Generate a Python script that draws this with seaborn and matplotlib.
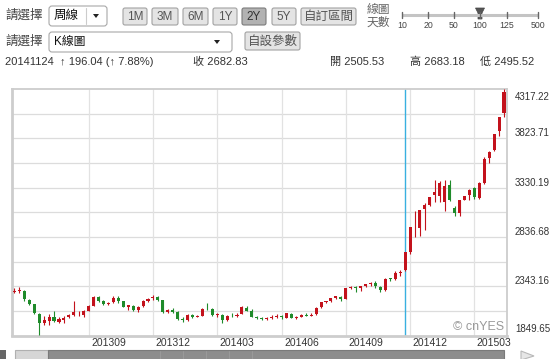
import numpy as np
import pandas as pd
import seaborn as sns
import matplotlib
matplotlib.use("Agg")
import matplotlib.pyplot as plt
import matplotlib.transforms as mtransforms
from matplotlib.patches import FancyBboxPatch, Rectangle, Polygon

# ---------------- data (weekly candles, week starting dates) ----------------
week_start = "2013-05-20"
opens = [2283, 2295, 2300, 2203, 2163, 2066, 1978, 1999, 2038, 1987,
         2005, 2031, 2052, 2052, 2055, 2097, 2142, 2237, 2191, 2161,
         2180, 2228, 2192, 2130, 2148, 2100, 2140, 2196, 2221, 2238,
         2205, 2086, 2100, 2080, 2012, 2000, 2050, 2035, 2047, 2115,
         2110, 2055, 2053, 2000, 2048, 2042, 2063, 2128, 2098, 2030,
         2026, 2010, 2025, 2033, 2040, 2028, 2068, 2023, 2037, 2058,
         2046, 2060, 2130, 2183, 2196, 2226, 2240, 2217, 2328, 2330,
         2330, 2350, 2366, 2375, 2340, 2302, 2420, 2418, 2480, 2505.53,
         2690, 2935, 2930, 3115, 3160, 3258, 3250, 3189, 3360, 3130,
         3080, 3210, 3260, 3330, 3230, 3380, 3630, 3710, 3899, 4072]
highs = [2321, 2334, 2310, 2215, 2168, 2070, 2049, 2064, 2093, 2030,
         2045, 2068, 2199, 2094, 2105, 2150, 2244, 2242, 2203, 2180,
         2242, 2242, 2197, 2155, 2150, 2140, 2205, 2230, 2260, 2250,
         2210, 2115, 2120, 2090, 2030, 2060, 2060, 2050, 2120, 2177,
         2120, 2075, 2060, 2050, 2072, 2070, 2146, 2140, 2115, 2045,
         2037, 2035, 2050, 2060, 2050, 2075, 2075, 2040, 2065, 2075,
         2070, 2130, 2190, 2200, 2230, 2250, 2245, 2330, 2345, 2345,
         2350, 2370, 2390, 2392, 2350, 2425, 2430, 2500, 2510, 2683.18,
         2938, 3091, 3108, 3177, 3239, 3406, 3400, 3406, 3406, 3150,
         3210, 3250, 3320, 3340, 3385, 3633, 3700, 3865, 4040, 4317.22]
lows = [2275, 2273, 2200, 2150, 2060, 1849.65, 1950, 1953, 1985, 1970,
        1975, 2026, 2048, 2040, 2035, 2090, 2141, 2180, 2150, 2150,
        2178, 2178, 2130, 2105, 2095, 2080, 2138, 2180, 2210, 2200,
        2075, 2070, 2075, 2005, 1985, 1990, 2020, 2030, 2040, 2100,
        2040, 2030, 1974, 1990, 2035, 2030, 2060, 2090, 2030, 2010,
        2000, 2000, 2015, 2025, 2015, 2025, 2020, 2010, 2035, 2040,
        2040, 2058, 2125, 2170, 2180, 2215, 2200, 2215, 2315, 2290,
        2300, 2340, 2350, 2330, 2285, 2300, 2400, 2410, 2445, 2495.52,
        2670, 2834, 2850, 2903, 3145, 3188, 3190, 3095, 3200, 3050,
        3050, 3205, 3210, 3220, 3220, 3370, 3580, 3700, 3850, 4035]
closes = [2300, 2301, 2211, 2162, 2073, 1979, 2007, 2039, 1992, 2010,
          2029, 2052, 2085, 2057, 2098, 2140, 2236, 2191, 2160, 2175,
          2228, 2194, 2133, 2150, 2106, 2136, 2196, 2220, 2237, 2205,
          2085, 2101, 2083, 2013, 2005, 2054, 2033, 2044, 2116, 2114,
          2056, 2058, 2004, 2048, 2042, 2059, 2131, 2098, 2037, 2026,
          2011, 2027, 2035, 2039, 2030, 2071, 2025, 2037, 2059, 2047,
          2059, 2127, 2185, 2194, 2227, 2241, 2217, 2326, 2332, 2329,
          2348, 2364, 2375, 2341, 2302, 2420, 2418, 2479, 2487, 2682.83,
          2938, 2938, 3109, 3158, 3235, 3285, 3376, 3351, 3210, 3076,
          3204, 3247, 3310, 3241, 3373, 3617, 3691, 3864, 4034, 4287]

month_labels = ["201309", "201312", "201403", "201406", "201409", "201412", "201503"]
selected_week = "2014-11-24"

header_items = ["20141124  \u2191 196.04 (\u2191 7.88%)", "收 2682.83", "開 2505.53",
                "高 2683.18", "低 2495.52"]
range_buttons = ["1M", "3M", "6M", "1Y", "2Y", "5Y", "自訂區間"]
slider_labels = ["10", "20", "50", "100", "125", "500"]

# ---------------- frame ----------------
dates = pd.date_range(week_start, periods=len(closes), freq="7D")
df = pd.DataFrame({"date": dates, "open": opens, "high": highs,
                   "low": lows, "close": closes})
df["idx"] = np.arange(len(df))

sns.set_theme(style="white")
plt.rcParams["font.family"] = ["Liberation Sans", "Noto Sans CJK TC", "DejaVu Sans"]

W, H = 553, 359
fig = plt.figure(figsize=(W / 100, H / 100), dpi=100)
fig.patch.set_facecolor("white")

# overlay for UI chrome (pixel coordinates, y downward)
ov = fig.add_axes([0, 0, 1, 1], zorder=0)
ov.set_xlim(0, W)
ov.set_ylim(H, 0)
ov.axis("off")

# chart axes
L, R, T, B = 12, 506.5, 89, 335.5
ax = fig.add_axes([L / W, (H - B) / H, (R - L) / W, (B - T) / H], zorder=2)

RED = "#c3121c"
GREEN = "#1f8b2a"
GRID = "#dcdcdc"

ymin, ymax = min(lows), max(highs)
ax.set_xlim(-0.5, len(df) - 0.5)
ax.set_ylim(ymin, ymax)

# grid lines
hlines = np.linspace(ymin, ymax, 11)
for v in hlines[1:-1]:
    ax.axhline(v, color=GRID, lw=0.9, zorder=1)
tick_idx = []
for lab in month_labels:
    y, m = int(lab[:4]), int(lab[4:])
    first = df.index[(df["date"].dt.year == y) & (df["date"].dt.month == m)][0]
    tick_idx.append(first)
for t in tick_idx:
    ax.axvline(t, color="#e2e2e2", lw=0.9, zorder=1)

# selected week marker
sel = df.index[df["date"] == pd.Timestamp(selected_week)][0]
ax.axvline(sel, color="#38b0e0", lw=1.0, zorder=2)

# candles
up = df["close"] >= df["open"]
cols = np.where(up, RED, GREEN)
ax.vlines(df["idx"], df["low"], df["high"], colors=cols, lw=0.8, zorder=3)
body_lo = np.minimum(df["open"], df["close"])
body_h = np.abs(df["close"] - df["open"])
min_h = 8.0
pad = np.clip(min_h - body_h, 0, None) / 2
ax.bar(df["idx"], np.maximum(body_h, min_h), bottom=body_lo - pad, width=0.62,
       color=cols, edgecolor=cols, linewidth=0, zorder=4)

ax.set_xticks([])
ax.set_yticks([])
for side in ["top", "right", "bottom", "left"]:
    ax.spines[side].set_visible(True)
    ax.spines[side].set_color("#cdcdcd")
    ax.spines[side].set_linewidth(1.3)
ax.spines["left"].set_linewidth(2)
ax.spines["bottom"].set_linewidth(2)

# y labels on the right
yt = np.linspace(ymin, ymax, 6)
ytrans = mtransforms.blended_transform_factory(ax.transAxes, ax.transData)
for k, v in enumerate(yt):
    if k == len(yt) - 1:
        dy = -8
    elif k == 0:
        dy = 7
    else:
        dy = 5
    tr = mtransforms.offset_copy(ytrans, fig=fig, x=8.5, y=dy, units="dots")
    ax.text(1.0, v, f"{v:.2f}", transform=tr, ha="left", va="center",
            fontsize=7, color="#333333", clip_on=False)

# x labels
xtrans = mtransforms.blended_transform_factory(ax.transData, ax.transAxes)
for t, lab in zip(tick_idx, month_labels):
    tr = mtransforms.offset_copy(xtrans, fig=fig, x=2.5, y=-7.5, units="dots")
    ax.text(t, 0.0, lab, transform=tr, ha="left", va="center",
            fontsize=7.5, color="#333333", clip_on=False)

# watermark
ax.text(0.995, 0.035, "© cnYES", transform=ax.transAxes, ha="right", va="center",
        fontsize=9, color="#9a9a9a", zorder=5)

# ---------------- UI chrome ----------------
TXT = "#333333"

def box(x0, y0, x1, y1, fc, ec, r=2, lw=0.8):
    p = FancyBboxPatch((x0, y0), x1 - x0, y1 - y0,
                       boxstyle=f"round,pad=0,rounding_size={r}",
                       fc=fc, ec=ec, lw=lw)
    ov.add_patch(p)

def tri_down(cx, cy, w=6, h=4):
    ov.add_patch(Polygon([(cx - w / 2, cy - h / 2), (cx + w / 2, cy - h / 2), (cx, cy + h / 2)],
                         closed=True, fc="#222222", ec="none"))

# row 1
ov.text(5, 16, "請選擇", fontsize=9, color="#444444", va="center", ha="left")
box(49, 6, 107, 26, "white", "#a8a8a8", r=3)
ov.text(54, 16, "周線", fontsize=9, color="#111111", va="center", ha="left")
ov.plot([86, 86], [8, 24], color="#cccccc", lw=0.8)
tri_down(96, 16)

btn_x = [(123, 147), (152, 178), (183, 208), (213, 237), (242, 266), (272, 296), (301, 356)]
for (x0, x1), lab in zip(btn_x, range_buttons):
    pressed = lab == "2Y"
    box(x0, 8, x1, 25, "#b2b2b2" if pressed else "#e4e4e4",
        "#7c7c7c" if pressed else "#a2a2a2", r=2)
    ov.text((x0 + x1) / 2, 16.8, lab, fontsize=8.5 if len(lab) < 3 else 9,
            color="#333333" if pressed else "#555555", ha="center", va="center")

ov.text(367, 10.5, "線圖", fontsize=8.5, color="#666666", va="center", ha="left")
ov.text(367, 23, "天數", fontsize=8.5, color="#666666", va="center", ha="left")
slider_x = [402, 428, 454, 480, 507, 538]
ov.plot([slider_x[0], slider_x[-1]], [15, 15], color="#c4c4c4", lw=2.2, solid_capstyle="butt")
for sx, lab in zip(slider_x, slider_labels):
    ov.plot([sx, sx], [12, 18], color="#666666", lw=1.0)
    ov.text(sx, 25, lab, fontsize=6.3, color="#444444", ha="center", va="center")
thumb = slider_x[slider_labels.index("100")]
ov.add_patch(Polygon([(thumb - 4.5, 8), (thumb + 4.5, 8), (thumb + 2, 13),
                      (thumb + 2, 19), (thumb - 2, 19), (thumb - 2, 13)],
                     closed=True, fc="#555555", ec="#444444", lw=0.5))

# row 2
ov.text(5, 42, "請選擇", fontsize=9, color="#444444", va="center", ha="left")
box(49, 32, 232, 52, "white", "#a8a8a8", r=3)
ov.text(54, 42, "K線圖", fontsize=8.5, color="#111111", va="center", ha="left")
tri_down(217, 42)
box(245, 32, 300, 50, "#e4e4e4", "#a2a2a2", r=2)
ov.text(272.5, 41.5, "自設參數", fontsize=9, color="#555555", ha="center", va="center")

# row 3 header values
hx = [5, 193, 330, 410, 480]
for x0, lab in zip(hx, header_items):
    ov.text(x0, 62, lab, fontsize=8, color=TXT, ha="left", va="center")

# bottom scrollbar
ov.add_patch(Rectangle((0, 350), 6, 10, fc="#666666", ec="none"))
ov.add_patch(Rectangle((15, 350), 33, 10, fc="#d6d6d6", ec="#b0b0b0", lw=0.8))
ov.add_patch(Rectangle((48, 350), 456, 10, fc="#8d8d8d", ec="#7a7a7a", lw=0.8))
for sx in [160, 183, 206, 229, 252]:
    ov.plot([sx, sx], [351, 359], color="#9c9c9c", lw=0.6)
ov.add_patch(Polygon([(521, 351), (521, 360), (534, 356)], closed=True,
                     fc="#e6e6e6", ec="#b8b8b8", lw=0.8))

fig.savefig("out.png", dpi=100, facecolor="white")
